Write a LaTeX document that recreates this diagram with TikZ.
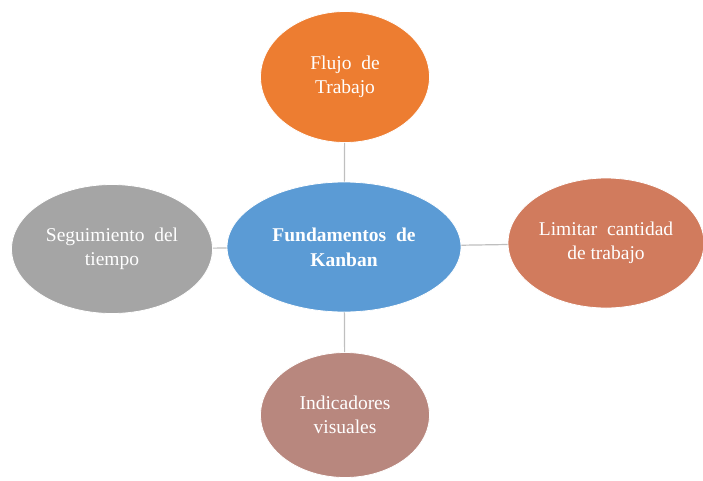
\documentclass[tikz,border=0pt]{standalone}
\usepackage{fontspec}
\setmainfont{Liberation Serif}
\usepackage{tikz}
\usetikzlibrary{shapes.geometric}

\definecolor{flujo}{HTML}{ED7D31}
\definecolor{limitar}{HTML}{D17B5D}
\definecolor{seguir}{HTML}{A5A5A5}
\definecolor{centro}{HTML}{5B9BD5}
\definecolor{indic}{HTML}{B8877E}
\definecolor{linea}{HTML}{BFBFBF}

\tikzset{
  bubble/.style={ellipse, draw=white, line width=0.8pt, text=white, align=center,
    inner sep=0pt, font=\fontsize{19.5}{24}\selectfont},
  link/.style={draw=linea, line width=1.2pt}
}

\begin{document}
\begin{tikzpicture}[x=1pt, y=-1pt]
         \useasboundingbox (0,0) rectangle (703,480);
         % centre
         \node[bubble, fill=centro, minimum width=234, minimum height=130, font=\fontsize{19.5}{25}\selectfont\bfseries] (kanban) at (344,247) {Fundamentos\ \ de\\Kanban};
         
         % outer ideas
         \node[bubble, fill=flujo, minimum width=169, minimum height=131] (flujo) at (345,77) {Flujo\ \ de\\Trabajo};
         \node[bubble, fill=limitar, minimum width=196, minimum height=130] (limitar) at (606,243) {Limitar\ \ cantidad\\de trabajo};
         \node[bubble, fill=seguir, minimum width=201, minimum height=129] (seguir) at (112,249) {Seguimiento\ \ del\\tiempo};
         \node[bubble, fill=indic, minimum width=169, minimum height=125] (indic) at (345,415) {Indicadores\\visuales};
         
         \draw[link] (kanban) -- (flujo);
         \draw[link] (kanban) -- (limitar);
         \draw[link] (kanban) -- (seguir);
         \draw[link] (kanban) -- (indic);
    \end{tikzpicture}
\end{document}
